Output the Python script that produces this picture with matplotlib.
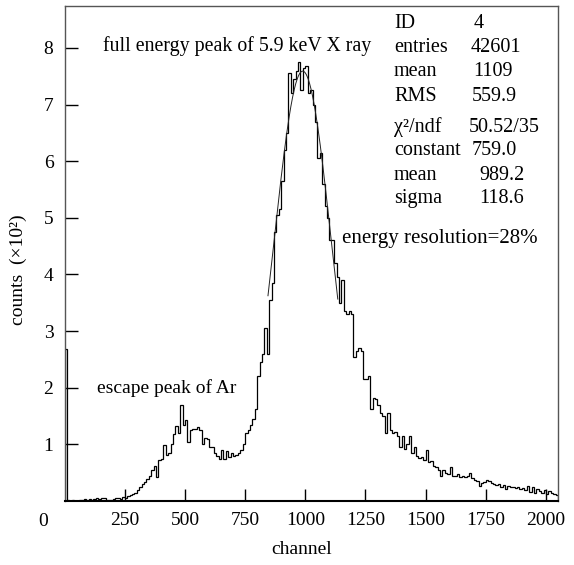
import numpy as np
import matplotlib
matplotlib.use('Agg')
import matplotlib.pyplot as plt

plt.rcParams['font.family'] = ['Liberation Serif', 'DejaVu Serif']
plt.rcParams['font.size'] = 14

# histogram contents, counts in units of 10^2, 10-channel bins starting at 0
counts_low = [2.68, 0.02, 0.0, 0.01, 0.0, 0.0, 0.02, 0.01, 0.03, 0.02,
              0.03, 0.02, 0.04, 0.06, 0.03, 0.05, 0.06, 0.02, 0.01, 0.02,
              0.03, 0.05, 0.06, 0.04, 0.07, 0.05, 0.08, 0.10, 0.12, 0.15,
              0.20, 0.24, 0.30, 0.34, 0.38, 0.45, 0.55, 0.62, 0.42, 0.72]
counts_escape = [0.74, 0.98, 0.82, 0.85, 1.00, 1.18, 1.32, 1.20, 1.69, 1.35,
                 1.43, 1.05, 1.25, 1.28, 1.27, 1.30, 1.25, 1.00, 1.12, 1.10,
                 0.95, 0.95, 0.85, 0.80, 0.75, 0.90, 0.75, 0.88, 0.78, 0.85,
                 0.80, 0.82, 0.85, 0.90, 1.00, 1.20, 1.25, 1.35, 1.45, 1.62]
counts_peak = [2.20, 2.45, 2.60, 3.05, 2.60, 3.55, 3.85, 4.75, 5.05, 5.15,
               5.65, 6.20, 6.50, 7.55, 7.20, 7.45, 7.60, 7.75, 7.25, 7.65,
               7.68, 7.20, 7.25, 7.00, 6.70, 6.05, 6.15, 5.60, 5.20, 5.00,
               4.60, 4.60, 4.20, 3.95, 3.50, 3.90, 3.35, 3.30, 3.35, 3.30]
counts_tail = [2.55, 2.65, 2.70, 2.65, 2.15, 2.15, 2.20, 1.62, 1.82, 1.80,
               1.70, 1.55, 1.50, 1.20, 1.55, 1.25, 1.20, 1.22, 1.15, 0.96,
               1.15, 0.92, 1.00, 1.14, 0.85, 0.95, 0.80, 0.76, 0.78, 0.72,
               0.90, 0.69, 0.70, 0.62, 0.60, 0.55, 0.44, 0.55, 0.50, 0.48,
               0.60, 0.45, 0.44, 0.47, 0.43, 0.45, 0.42, 0.44, 0.49, 0.40,
               0.37, 0.35, 0.26, 0.32, 0.34, 0.37, 0.35, 0.32, 0.30, 0.28,
               0.30, 0.24, 0.28, 0.22, 0.26, 0.24, 0.25, 0.23, 0.24, 0.22,
               0.23, 0.20, 0.27, 0.16, 0.25, 0.15, 0.22, 0.18, 0.14, 0.20,
               0.12, 0.18, 0.15, 0.12, 0.10]
counts = np.array(counts_low + counts_escape + counts_peak + counts_tail)
bin_width = 10
edges = np.arange(len(counts) + 1) * bin_width

# gaussian fit parameters (constant in counts)
fit_const = 759.0
fit_mean = 989.2
fit_sigma = 118.6
fit_range = (845, 1135)

stat_labels = ['ID', 'entries', 'mean', 'RMS']
stat_values = ['4', '42601', '1109', '559.9']
fit_labels = ['\u03c7\u00b2/ndf', 'constant', 'mean', 'sigma']
fit_values = ['50.52/35', '759.0', '989.2', '118.6']

xticks = [250, 500, 750, 1000, 1250, 1500, 1750, 2000]
yticks = [1, 2, 3, 4, 5, 6, 7, 8]

W, H = 574, 565
fig = plt.figure(figsize=(W / 100, H / 100), dpi=100)
ax = fig.add_axes([64.6 / W, 1 - 501 / H, (558 - 64.6) / W, (501 - 6) / H])

ax.stairs(counts, edges, color='black', lw=0.9)
xf = np.linspace(fit_range[0], fit_range[1], 300)
yf = fit_const / 100 * np.exp(-0.5 * ((xf - fit_mean) / fit_sigma) ** 2)
ax.plot(xf, yf, color='#222222', lw=0.7)

ax.set_xlim(0, 2050)
ax.set_ylim(0, 8.74)
ax.set_xticks(xticks)
ax.set_yticks(yticks)
ax.tick_params(direction='in', length=9, width=1, pad=8, labelsize=14)
for s in ['top', 'right', 'left']:
    ax.spines[s].set_color('#555555')
    ax.spines[s].set_linewidth(1)
ax.spines['bottom'].set_linewidth(1.5)

def px(x, y):
    return x / W, 1 - y / H

fig.text(*px(43, 521), '0', ha='center', va='center', fontsize=14)
fig.text(*px(302, 550), 'channel', ha='center', va='center', fontsize=14)
fig.text(*px(18, 270), 'counts  (\u00d710\u00b2)', ha='center', va='center',
         rotation=90, fontsize=14)

fig.text(*px(103, 46), 'full energy peak of 5.9 keV X ray', ha='left', va='center',
         fontsize=14.3)
fig.text(*px(97, 388), 'escape peak of Ar', ha='left', va='center')
fig.text(*px(342, 239), 'energy resolution=28%', ha='left', va='center', fontsize=15)

stat_val_x = [474, 471, 473, 472]
for i, (lab, val) in enumerate(zip(stat_labels, stat_values)):
    y = 23 + i * 24.5
    fig.text(*px(394, y), lab, ha='left', va='center', fontsize=14.5)
    fig.text(*px(stat_val_x[i], y), val, ha='left', va='center', fontsize=14.5)
fit_val_x = [469, 472, 479, 479]
for i, (lab, val) in enumerate(zip(fit_labels, fit_values)):
    y = 127 + i * 24
    fig.text(*px(394, y), lab, ha='left', va='center', fontsize=14.5)
    fig.text(*px(fit_val_x[i], y), val, ha='left', va='center', fontsize=14.5)

fig.savefig('out.png', dpi=100)
